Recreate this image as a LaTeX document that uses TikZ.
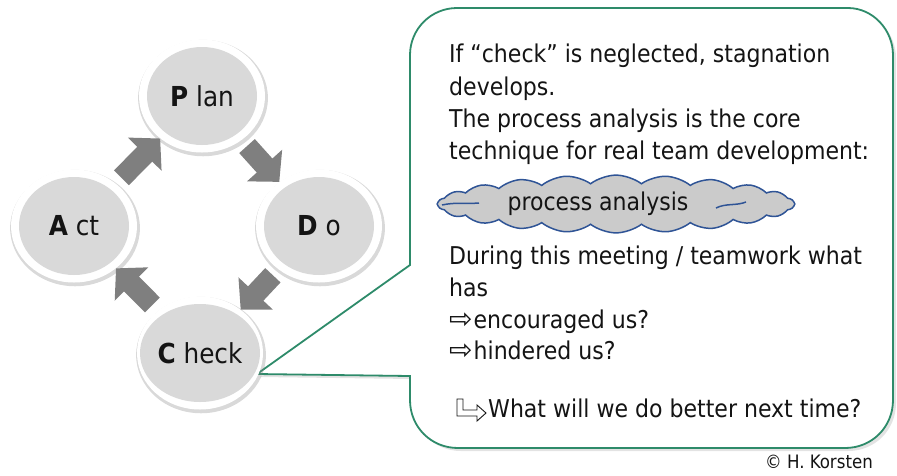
\documentclass[tikz,border=0pt]{standalone}
\usepackage{fontspec}
\setmainfont{DejaVu Sans Condensed}
\newfontfamily\symfont{DejaVu Sans}
\usetikzlibrary{shapes.geometric,shapes.symbols,arrows.meta,shadows}
\definecolor{coregray}{HTML}{D9D9D9}
\definecolor{arrgray}{HTML}{7F7F7F}
\definecolor{boxgreen}{HTML}{2E8B6A}
\definecolor{cloudfill}{HTML}{CBCBCB}
\definecolor{cloudblue}{HTML}{2F5496}
\definecolor{txt}{HTML}{141414}
\begin{document}
\begin{tikzpicture}[x=1pt,y=-1pt,
  ring/.style={ellipse, fill=white, minimum width=126pt, minimum height=113pt, inner sep=0pt,
    drop shadow={opacity=0.3, shadow scale=1.03, shadow xshift=1pt, shadow yshift=-2pt}},
  core/.style={ellipse, fill=coregray, minimum width=110pt, minimum height=98pt, inner sep=0pt,
    text=txt, font=\fontsize{27.5}{30}\selectfont},
  flow/.style={draw=arrgray, line width=21pt, -{Triangle[length=22pt,width=46pt]}, shorten <=8pt},
  line/.style={anchor=base west, inner sep=0pt, text=txt, font=\fontsize{24.5}{28}\selectfont},
  callout/.style={draw=boxgreen, line width=1.8pt, fill=white,
    drop shadow={opacity=0.22, shadow xshift=3pt, shadow yshift=-3pt}},
  wsym/.style={font=\symfont\fontsize{28}{30}\selectfont}
]
\useasboundingbox (0,0) rectangle (897,475);

% callout box
\coordinate (tip) at (257,374);
\draw[callout] (410,265) -- (410,55) .. controls (410,29) and (431,8) .. (457,8)
  -- (848,8) .. controls (873,8) and (893,30) .. (893,55)
  -- (893,400) .. controls (893,427) and (872,448) .. (845,448)
  -- (458,448) .. controls (431,448) and (410,427) .. (410,400)
  -- (410,376) -- (tip) -- cycle;

% circles
\node[ring] (Pr) at (202,96) {};
\node[ring] (Dr) at (319,226) {};
\node[ring] (Cr) at (200,353) {};
\node[ring] (Ar) at (74,226) {};
\node[core] (P) at (Pr.center) {\textbf{P} lan};
\node[core] (D) at (Dr.center) {\textbf{D} o};
\node[core] (C) at (Cr.center) {\textbf{C} heck};
\node[core] (A) at (Ar.center) {\textbf{A} ct};

% arrows
\draw[flow] (Pr) -- (Dr);
\draw[flow] (Dr) -- (Cr);
\draw[flow] (Cr) -- (Ar);
\draw[flow] (Ar) -- (Pr);

% text
\node[line] (t1) at (449,62) {If “check” is neglected, stagnation};
\node[line] (t2) at (449,95) {develops.};
\node[line] (t3) at (449,127) {The process analysis is the core};
\node[line] (t4) at (449,159) {technique for real team development:};

\node[cloud, cloud puffs=22, cloud puff arc=75, cloud ignores aspect, minimum width=356pt, minimum height=38pt,
  draw=cloudblue, fill=cloudfill, line width=1.5pt, text=txt, font=\fontsize{24.5}{28}\selectfont] (cl) at (616,204)
  {\raisebox{-3pt}{process analysis}\hspace*{36pt}};
\draw[cloudblue, line width=1.5pt] (442,205) .. controls (455,202) and (468,204) .. (479,203);
\draw[cloudblue, line width=1.5pt] (716,208) .. controls (726,203) and (736,206) .. (746,202);

\node[line] (t6) at (449,264) {During this meeting / teamwork what};
\node[line] (t7) at (449,296) {has};
\node[line] (t8) at (449,328) {{\symfont\fontsize{28}{30}\selectfont ⇨}\hspace{1pt}encouraged us?};
\node[line] (t9) at (449,359) {{\symfont\fontsize{28}{30}\selectfont ⇨}\hspace{1pt}hindered us?};
\draw[txt, line width=0.9pt, fill=white] (457,399) -- (463,399) -- (463,410) -- (477,410) -- (477,405)
  -- (486,413) -- (477,421) -- (477,416) -- (457,416) -- cycle;
\node[line] (t10) at (488,417) {What will we do better next time?};

\node[anchor=base east, inner sep=0pt, text=txt, font=\fontsize{18.5}{20}\selectfont] (copy) at (873,468) {© H. Korsten};
\end{tikzpicture}
\end{document}
